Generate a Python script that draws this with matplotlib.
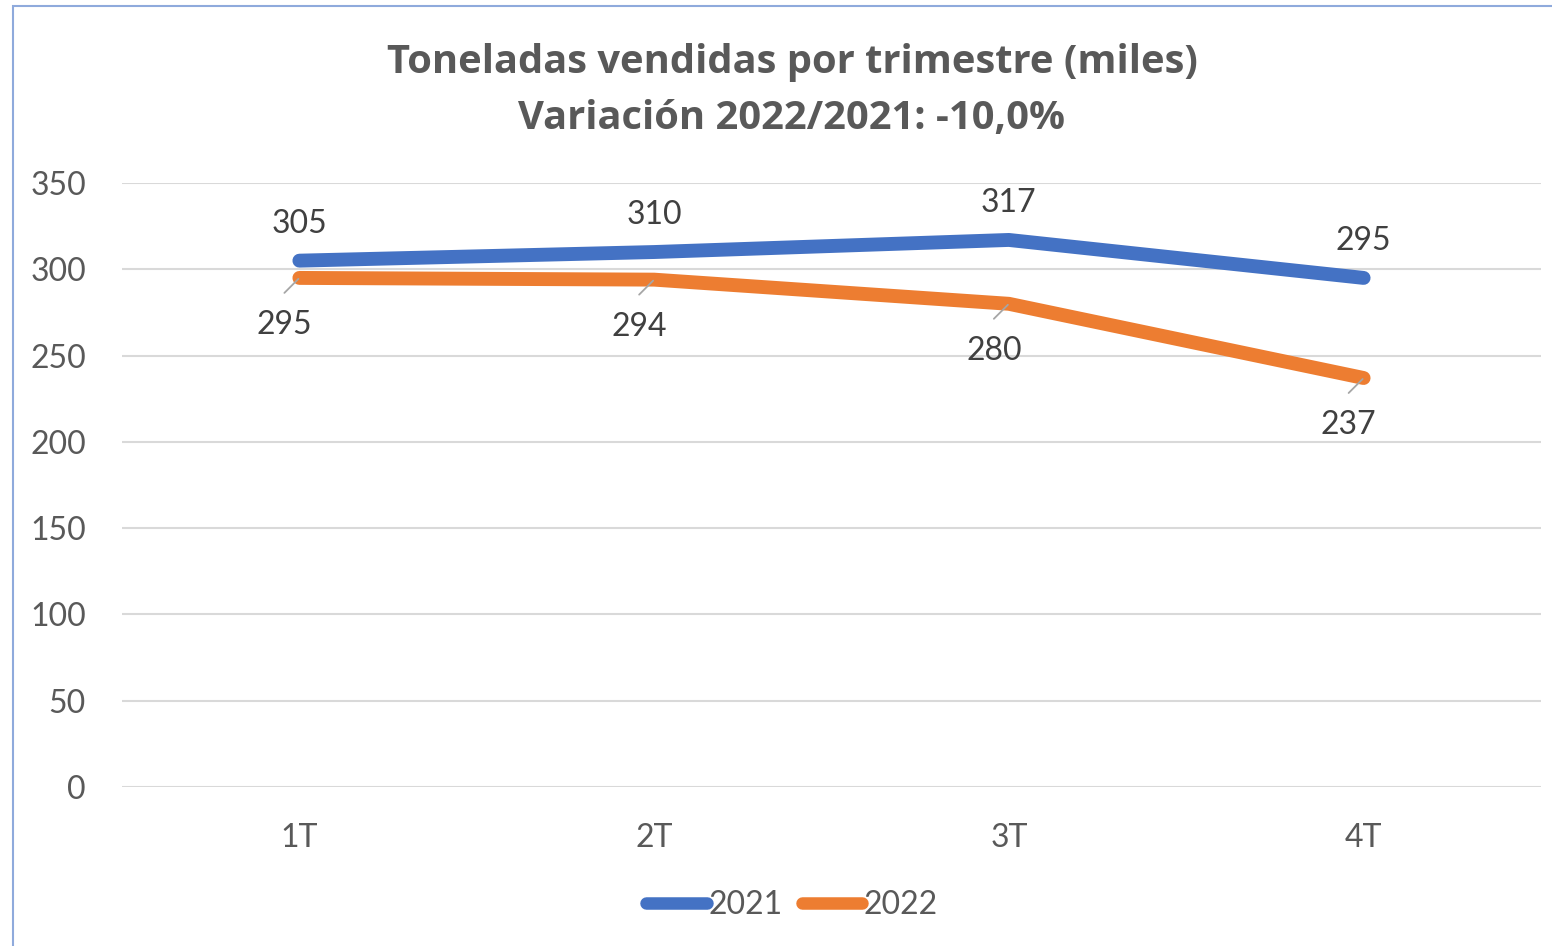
import matplotlib
matplotlib.use("Agg")
import matplotlib.pyplot as plt
from matplotlib.patches import Rectangle

categories = ["1T", "2T", "3T", "4T"]
series_names = ["2021", "2022"]
values_2021 = [305, 310, 317, 295]
values_2022 = [295, 294, 280, 237]
y_ticks = [0, 50, 100, 150, 200, 250, 300, 350]
title_lines = ["Toneladas vendidas por trimestre (miles)", "Variación 2022/2021: -10,0%"]

W, H = 1552, 946
DPI = 100
plt.rcParams['font.family'] = ['Lato', 'DejaVu Sans']

fig = plt.figure(figsize=(W / DPI, H / DPI), dpi=DPI)
fig.patch.set_facecolor("white")

# chart frame (cropped on right and bottom)
fig.patches.append(Rectangle((13 / W, -0.1), 1.2, 1 - 6 / H + 0.1, transform=fig.transFigure,
                             fill=False, edgecolor="#8faadc", linewidth=1.5, zorder=0))

ax = fig.add_axes([122 / W, 1 - 787 / H, (1541 - 122) / W, (787 - 183) / H])
x = list(range(len(categories)))

blue = "#4472c4"
orange = "#ed7d31"

ax.plot(x, values_2021, color=blue, lw=10, solid_capstyle="round", solid_joinstyle="round",
        label=series_names[0], zorder=3)
ax.plot(x, values_2022, color=orange, lw=10, solid_capstyle="round", solid_joinstyle="round",
        label=series_names[1], zorder=3)

ax.set_xlim(-0.5, 3.5)
ax.set_ylim(0, 350)
ax.set_yticks(y_ticks)
ax.set_xticks(x)
ax.set_xticklabels(categories)
ax.grid(axis="y", color="#d9d9d9", lw=1.5)
ax.set_axisbelow(True)
for s in ax.spines.values():
    s.set_visible(False)
ax.tick_params(axis="both", length=0, labelsize=23, colors="#595959")
ax.tick_params(axis="y", pad=26)
ax.tick_params(axis="x", pad=26)

px = 72 / DPI  # points per pixel
lab_color = "#404040"
for xi, v in zip(x, values_2021):
    ax.annotate(str(v), (xi, v), xytext=(0, 37 * px), textcoords="offset points",
                ha="center", va="center", fontsize=23, color=lab_color, zorder=4)
for xi, v in zip(x, values_2022):
    ax.annotate(str(v), (xi, v), xytext=(-15 * px, -47 * px), textcoords="offset points",
                ha="center", va="center", fontsize=23, color=lab_color, zorder=4)
    ax.annotate("", xy=(xi, v), xytext=(-15 * px, -15 * px), textcoords="offset points",
                arrowprops=dict(arrowstyle="-", color="#a6a6a6", lw=1.3, shrinkA=0, shrinkB=1),
                zorder=5)

for i, line in enumerate(title_lines):
    fig.text(792 / W, 1 - (62 + 57 * i) / H, line, ha="center", va="center",
             fontsize=28.7, fontweight="bold", color="#595959",
             family=["Open Sans", "DejaVu Sans"])

leg = ax.legend(loc="center", bbox_to_anchor=(792 / W, 1 - 905 / H), bbox_transform=fig.transFigure,
                ncol=2, frameon=False, fontsize=23, handlelength=1.9, handletextpad=0.05,
                columnspacing=0.6, labelcolor="#595959")
for h in leg.get_lines():
    h.set_linewidth(9)
    h.set_solid_capstyle("round")

fig.savefig("out.png", dpi=DPI, facecolor="white")
